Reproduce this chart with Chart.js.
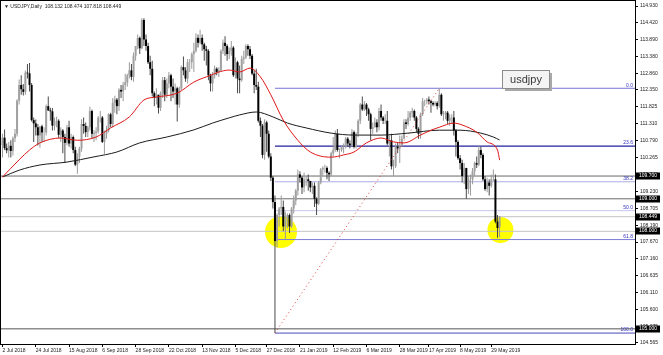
<!DOCTYPE html>
<html>
<head>
<meta charset="utf-8">
<script src="https://cdn.jsdelivr.net/npm/chart.js@4.4.1/dist/chart.umd.min.js"></script>
<style>html,body{margin:0;padding:0;background:#fff;overflow:hidden}</style>
</head>
<body>
<canvas id="chart" width="663" height="355"></canvas>
<script>
// USDJPY daily bars, 2 Jul 2018 .. 4 Jun 2019 (index = bar number)
const opens = [
110.65,110.88,110.56,110.49,110.63,110.47,110.86,111.00,112.02,112.50,
112.37,112.29,112.88,112.86,112.50,111.42,111.32,111.20,110.95,111.23,
111.04,111.04,111.85,111.72,111.69,111.25,111.38,111.40,110.97,111.10,
110.90,110.72,111.20,110.70,110.90,110.50,110.05,110.30,110.55,111.30,
111.24,111.05,111.20,111.70,111.00,111.03,111.07,111.50,111.50,110.75,
111.00,111.10,111.60,111.30,111.95,112.05,111.85,112.35,112.30,112.50,
112.58,112.80,112.95,112.75,113.40,113.70,113.95,113.63,114.50,113.90,
113.70,113.20,113.00,112.25,112.10,112.20,111.80,112.25,112.65,112.20,
112.55,112.80,112.45,112.30,112.40,111.90,112.40,113.05,112.95,112.70,
113.20,113.20,113.45,113.55,113.95,113.80,113.95,113.75,113.60,113.55,
112.80,112.55,112.80,113.00,112.90,112.95,113.55,113.80,113.70,113.45,
113.55,113.65,112.80,113.20,112.70,112.65,113.30,113.35,113.70,113.60,
113.40,112.85,112.50,112.45,111.40,111.25,110.35,111.35,111.00,110.30,
109.65,108.90,107.70,108.50,108.70,108.75,108.15,108.40,108.50,108.15,
108.70,108.95,109.25,109.75,109.65,109.35,109.60,109.60,109.55,109.35,
109.40,109.00,108.85,109.50,109.90,109.95,109.95,109.80,109.75,110.40,
110.50,111.00,110.50,110.50,110.60,110.60,110.85,110.70,110.65,111.05,
110.60,111.00,111.40,111.90,111.75,111.90,111.75,111.60,111.15,111.20,
111.35,111.20,111.70,111.50,111.40,111.40,110.70,110.80,110.00,110.00,
110.60,110.55,110.65,110.85,111.35,111.30,111.50,111.65,111.70,111.50,
111.15,111.00,111.60,112.00,112.00,112.05,112.00,111.95,111.90,111.95,
111.85,112.20,111.60,111.60,111.65,111.40,111.50,111.50,111.10,110.75,
110.25,110.10,109.70,109.95,109.30,109.60,109.60,109.85,110.10,110.05,
110.50,110.35,109.60,109.30,109.50,109.40,109.60,109.60,108.30,108.132
];
const highs = [
111.00,111.13,110.70,110.75,110.80,110.92,111.15,112.06,112.67,112.80,
112.53,112.95,113.15,113.18,112.56,111.50,111.44,111.30,111.18,111.28,
111.20,111.90,112.15,111.80,111.79,111.50,111.52,111.45,111.20,111.15,
111.00,111.28,111.40,111.00,110.95,110.60,110.40,110.60,111.45,111.50,
111.35,111.25,111.83,111.75,111.12,111.20,111.55,111.70,111.55,111.10,
111.25,111.63,111.65,112.10,112.17,112.10,112.40,112.50,112.60,112.85,
112.85,113.20,113.15,113.50,113.70,114.05,113.99,114.55,114.55,114.05,
113.80,113.40,113.25,112.30,112.40,112.20,112.30,112.75,112.75,112.70,
112.90,112.85,112.70,112.55,112.45,112.45,113.10,113.38,113.05,113.30,
113.30,113.50,113.80,114.09,114.05,114.20,114.05,113.80,113.70,113.60,
112.85,112.90,113.10,113.05,113.05,113.60,113.90,114.00,113.75,113.65,
113.85,113.70,113.35,113.25,113.10,113.40,113.55,113.75,113.75,113.70,
113.45,112.95,113.00,112.60,111.50,111.30,111.45,111.40,111.10,110.40,
109.70,109.10,108.55,108.75,109.10,108.95,108.60,108.55,108.55,108.75,
109.10,109.30,109.90,109.85,109.70,109.80,109.70,109.75,109.55,109.50,
109.50,109.05,109.55,109.95,110.00,110.05,110.00,109.85,110.45,110.90,
111.10,111.15,110.55,110.65,110.70,110.90,110.90,110.80,111.15,111.10,
111.05,111.45,111.95,112.15,112.00,111.95,111.80,111.65,111.35,111.50,
111.45,111.80,111.90,111.55,111.60,111.70,110.95,111.00,110.20,110.70,
110.75,110.95,110.95,111.45,111.45,111.70,111.70,111.80,111.75,111.55,
111.20,111.65,112.10,112.05,112.10,112.15,112.05,112.00,112.00,112.00,
112.40,112.25,111.70,111.70,111.70,111.60,111.60,111.70,111.15,110.80,
110.35,110.20,110.10,109.95,109.70,109.75,109.95,110.15,110.30,110.65,
110.60,110.40,109.70,109.65,109.60,109.75,109.90,109.75,108.50,108.474
];
const lows = [
110.27,110.50,110.40,110.27,110.27,110.33,110.75,110.92,111.90,112.20,
112.18,112.20,112.70,112.30,111.38,110.75,110.95,110.64,110.57,110.75,
110.75,110.95,111.70,111.40,111.10,111.10,111.20,110.87,110.75,110.40,
110.10,110.65,110.60,110.55,110.40,110.00,109.77,110.10,110.45,111.00,
110.90,110.90,111.10,110.85,110.75,110.80,111.00,111.35,110.72,110.38,
110.85,111.05,111.20,111.20,111.65,111.60,111.70,112.10,112.00,112.35,
112.45,112.70,112.65,112.60,113.25,113.60,113.45,113.60,113.70,113.55,
113.15,112.80,112.15,111.85,111.90,111.62,111.70,112.10,112.00,112.10,
112.40,112.00,112.10,111.90,111.38,111.80,112.35,112.80,112.60,112.55,
112.90,113.00,112.90,113.50,113.65,113.75,113.55,113.25,113.10,112.65,
112.30,112.30,112.70,112.80,112.75,112.90,113.45,113.40,113.25,113.30,
113.40,112.75,112.70,112.25,112.25,112.60,113.15,113.30,113.40,113.30,
112.80,112.25,112.35,111.35,110.90,110.25,110.20,110.45,110.25,109.55,
108.70,104.87,107.50,108.15,108.50,108.00,107.75,108.10,107.95,108.10,
108.55,108.80,109.10,109.50,109.15,109.20,109.40,109.25,109.20,109.15,
108.75,108.50,108.80,109.45,109.70,109.80,109.60,109.55,109.70,110.30,
110.45,110.45,110.25,110.45,110.40,110.55,110.60,110.55,110.60,110.55,
110.55,110.90,111.30,111.70,111.70,111.55,111.40,110.80,111.00,111.20,
111.05,111.10,111.40,111.30,111.30,110.65,110.30,109.90,109.70,109.95,
110.40,110.10,110.60,110.85,111.15,111.25,111.40,111.50,111.40,111.05,
110.85,110.85,111.55,111.85,111.90,111.90,111.65,111.85,111.85,111.75,
111.80,111.55,111.40,111.45,111.30,111.25,111.30,110.95,110.30,110.20,
109.90,109.50,109.45,109.00,109.15,109.10,109.45,109.70,109.95,110.00,
110.25,109.55,109.25,109.20,109.10,109.35,109.55,108.25,107.80,107.818
];
const closes = [
110.88,110.56,110.49,110.63,110.47,110.86,111.00,112.02,112.50,112.37,
112.29,112.88,112.86,112.50,111.42,111.32,111.20,110.95,111.23,111.04,
111.04,111.85,111.72,111.69,111.25,111.38,111.40,110.97,111.10,110.90,
110.72,111.20,110.70,110.90,110.50,110.05,110.30,110.55,111.30,111.24,
111.05,111.20,111.70,111.00,111.03,111.07,111.50,111.50,110.75,111.00,
111.10,111.60,111.30,111.95,112.05,111.85,112.35,112.30,112.50,112.58,
112.80,112.95,112.75,113.40,113.70,113.95,113.63,114.50,113.90,113.70,
113.20,113.00,112.25,112.10,112.20,111.80,112.25,112.65,112.20,112.55,
112.80,112.45,112.30,112.40,111.90,112.40,113.05,112.95,112.70,113.20,
113.20,113.45,113.55,113.95,113.80,113.95,113.75,113.60,113.55,112.80,
112.55,112.80,113.00,112.90,112.95,113.55,113.80,113.70,113.45,113.55,
113.65,112.80,113.20,112.70,112.65,113.30,113.35,113.70,113.60,113.40,
112.85,112.50,112.45,111.40,111.25,110.35,111.35,111.00,110.30,109.65,
108.90,107.70,108.50,108.70,108.75,108.15,108.40,108.50,108.15,108.70,
108.95,109.25,109.75,109.65,109.35,109.60,109.60,109.55,109.35,109.40,
109.00,108.85,109.50,109.90,109.95,109.95,109.80,109.75,110.40,110.50,
111.00,110.50,110.50,110.60,110.60,110.85,110.70,110.65,111.05,110.60,
111.00,111.40,111.90,111.75,111.90,111.75,111.60,111.15,111.20,111.35,
111.20,111.70,111.50,111.40,111.40,110.70,110.80,110.00,110.00,110.60,
110.55,110.65,110.85,111.35,111.30,111.50,111.65,111.70,111.50,111.15,
111.00,111.60,112.00,112.00,112.05,112.00,111.95,111.90,111.95,111.85,
112.20,111.60,111.60,111.65,111.40,111.50,111.50,111.10,110.75,110.25,
110.10,109.70,109.95,109.30,109.60,109.60,109.85,110.10,110.05,110.50,
110.35,109.60,109.30,109.50,109.40,109.60,109.60,108.30,108.10,108.449
];

// x axis date labels and the bars they sit on
const dateTickBars = [0,16,32,48,64,80,96,112,127,143,159,175,191,205,220,235];
const dateLabels = ["2 Jul 2018","24 Jul 2018","15 Aug 2018","6 Sep 2018","28 Sep 2018",
  "22 Oct 2018","13 Nov 2018","5 Dec 2018","27 Dec 2018","21 Jan 2019","12 Feb 2019",
  "6 Mar 2019","28 Mar 2019","17 Apr 2019","8 May 2019","29 May 2019"];

// right price scale
const priceTicks = [114.930,114.420,113.890,113.380,112.860,112.350,111.825,111.310,110.790,
  110.265,109.745,109.230,108.705,108.190,107.670,107.160,106.635,106.110,105.600,105.075,104.565];

// moving averages
const redMaBars = [0,8,13,18,28,36,45,52,61,68,74,84,92,98,109,114,119,124,129,135,142,148,158,
  164,169,175,182,188,193,201,206,210,217,221,228,233,238,239];
const redMa = [109.67,110.20,110.50,110.72,110.87,110.80,110.90,111.18,111.52,112.04,112.13,112.25,
  112.59,112.75,112.96,112.90,113.02,112.75,112.20,111.42,110.80,110.44,110.28,110.35,110.44,110.72,
  110.87,110.75,110.72,110.96,111.11,111.20,111.33,111.27,111.05,110.75,110.50,110.19];
const blackMaBars = [0,8,18,31,44,55,66,79,92,101,109,114,122,130,137,146,158,169,182,195,210,220,230,236,239];
const blackMa = [109.67,109.88,110.04,110.13,110.29,110.44,110.72,110.90,111.12,111.33,111.49,111.58,
  111.67,111.52,111.33,111.18,111.02,110.96,110.96,111.02,111.11,111.11,111.02,110.90,110.81];

// horizontal price lines
const hLevels = [109.700, 109.000, 108.449, 108.000, 105.000];
const hColors = ['#6a6a6a', '#6a6a6a', '#c4c4c4', '#c4c4c4', '#555555'];

// fibonacci retracement: Jan 3 low -> Apr 24 high
const fibLowBar = 131, fibLow = 104.87;
const fibHighBar = 210, fibHigh = 112.40;
const fibRatios = [0, 23.6, 38.2, 50.0, 61.8, 100.0];
const fibColors = ['#7474d4', '#22229c', '#ababe6', '#c6c6ee', '#7c7cd6', '#4a4abc'];

// highlighted circles
const circleBars = [133.9, 239.4];
const circlePrices = [107.98, 108.04];

const xMin = -0.72, xMax = 304.1;
const last = closes.length - 1;

const wickData = highs.map((h, i) => ({x: i, y: [lows[i], h]}));
const bodyData = opens.map((o, i) => ({x: i, y: [Math.min(o, closes[i]), Math.max(o, closes[i])]}));

const datasets = [
  {type: 'line', data: redMaBars.map((b, k) => ({x: b, y: redMa[k]})), borderColor: '#e01818',
    borderWidth: 1, pointRadius: 0, tension: 0.4, cubicInterpolationMode: 'monotone', order: 0},
  {type: 'line', data: blackMaBars.map((b, k) => ({x: b, y: blackMa[k]})), borderColor: '#1c1c1c',
    borderWidth: 1, pointRadius: 0, tension: 0.4, cubicInterpolationMode: 'monotone', order: 0},
  {type: 'line', data: [{x: fibLowBar, y: fibLow}, {x: fibHighBar, y: fibHigh}], borderColor: '#e04040',
    borderWidth: 1, borderDash: [1, 3], pointRadius: 0, order: 1},
  {type: 'bar', data: bodyData, barThickness: 2, grouped: false, inflateAmount: 0, order: 4,
    backgroundColor: c => closes[c.dataIndex] >= opens[c.dataIndex] ? '#a0a0a0' : '#000000'},
  {type: 'bar', data: wickData, barThickness: 1, grouped: false, inflateAmount: 0, order: 5,
    backgroundColor: c => closes[c.dataIndex] >= opens[c.dataIndex] ? '#9a9a9a' : '#4a4a4a'},
];
hLevels.forEach((v, k) => datasets.push({type: 'line', data: [{x: xMin, y: v}, {x: xMax, y: v}],
  borderColor: hColors[k], borderWidth: 1, pointRadius: 0, order: 20}));
fibRatios.forEach((r, k) => {
  const v = fibHigh - r / 100 * (fibHigh - fibLow);
  datasets.push({type: 'line', data: [{x: fibLowBar, y: v}, {x: xMax, y: v}],
    borderColor: fibColors[k], borderWidth: k === 1 ? 1.2 : 1, pointRadius: 0, order: 19});
});
datasets.push({type: 'line', data: circleBars.map((b, k) => ({x: b, y: circlePrices[k]})), showLine: false,
  pointRadius: [16, 13], pointBackgroundColor: '#ffff00', pointBorderWidth: 0, order: 30});

const tickFont = {family: 'Liberation Sans', size: 5};

const decor = {
  id: 'decor',
  beforeDraw(c) {
    const ctx = c.ctx;
    ctx.save();
    ctx.fillStyle = '#fff';
    ctx.fillRect(0, 0, c.width, c.height);
    ctx.restore();
  },
  afterDraw(c) {
    const {ctx, chartArea: a} = c;
    const y = c.scales.y;
    ctx.save();
    ctx.strokeStyle = '#000';
    ctx.lineWidth = 1;
    ctx.strokeRect(a.left - 0.5, a.top - 0.5, a.right - a.left + 1, a.bottom - a.top + 1);

    ctx.font = '5px "Liberation Sans"';
    ctx.textBaseline = 'middle';
    ctx.fillStyle = '#222';
    ctx.fillText('\u25BC USDJPY,Daily  ' + [opens[last], highs[last], lows[last], closes[last]]
      .map(v => v.toFixed(3)).join(' '), 4, 7);

    ctx.fillStyle = '#3434c0';
    ctx.textAlign = 'right';
    fibRatios.forEach(r => {
      const v = fibHigh - r / 100 * (fibHigh - fibLow);
      ctx.fillText(r.toFixed(1), a.right - 2, y.getPixelForValue(v) - 3);
    });

    ctx.textAlign = 'left';
    hLevels.forEach(v => {
      const py = Math.round(y.getPixelForValue(v));
      ctx.fillStyle = '#000';
      ctx.fillRect(a.right + 1, py - 3.5, 24, 7);
      ctx.fillStyle = '#fff';
      ctx.fillText(v.toFixed(3), a.right + 4, py);
    });

    // text label object
    ctx.fillStyle = '#a8a8a8';
    ctx.fillRect(505, 73, 47, 18);
    ctx.fillStyle = '#f4f4f4';
    ctx.fillRect(502.5, 70.5, 47, 18);
    ctx.strokeStyle = '#8c8c8c';
    ctx.strokeRect(502.5, 70.5, 47, 18);
    ctx.fillStyle = '#3a3a3a';
    ctx.font = '11px "Liberation Sans"';
    ctx.textAlign = 'center';
    ctx.fillText('usdjpy', 526, 80);
    ctx.restore();
  }
};

new Chart(document.getElementById('chart'), {
  type: 'bar',
  data: {datasets},
  plugins: [decor],
  options: {
    responsive: false,
    animation: false,
    events: [],
    layout: {autoPadding: false, padding: {left: 1, top: 1, right: 0, bottom: 0}},
    plugins: {legend: {display: false}, tooltip: {enabled: false}},
    scales: {
      x: {
        type: 'linear', min: xMin, max: xMax, offset: false,
        afterBuildTicks: s => { s.ticks = dateTickBars.map(v => ({value: v})); },
        afterFit: s => { s.height = 11; s.paddingLeft = 0; s.paddingRight = 0; },
        ticks: {autoSkip: false, maxRotation: 0, align: 'start', padding: 1, color: '#222', font: tickFont,
          callback: (v, i) => dateLabels[i]},
        grid: {drawOnChartArea: false, tickLength: 3, color: '#000', offset: false},
        border: {display: false}
      },
      y: {
        type: 'linear', position: 'right', min: 104.534, max: 115.084,
        afterBuildTicks: s => { s.ticks = priceTicks.map(v => ({value: v})); },
        afterFit: s => { s.width = 28; s.paddingTop = 0; s.paddingBottom = 0; },
        ticks: {autoSkip: false, padding: 2, color: '#222', font: tickFont,
          callback: v => v.toFixed(3)},
        grid: {drawOnChartArea: false, tickLength: 3, color: '#000'},
        border: {display: false}
      }
    }
  }
});
</script>
</body>
</html>
